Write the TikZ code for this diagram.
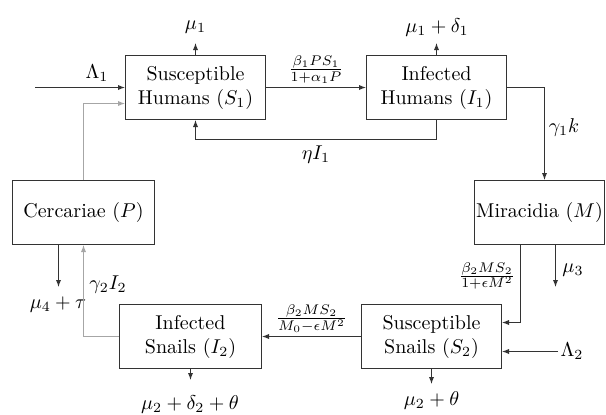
\documentclass[tikz,border=0pt]{standalone}
\usetikzlibrary{arrows.meta,calc}
\begin{document}
\begin{tikzpicture}[x=0.5pt,y=-0.5pt,
  box/.style={draw=black!80,line width=0.5pt,align=center,inner sep=0pt,minimum width=70pt,minimum height=32pt,font=\normalsize},
  flow/.style={draw=black!80,line width=0.5pt,-{Latex[length=3.5pt,width=2.6pt]}},
  faint/.style={flow,draw=black!35},
  lbl/.style={inner sep=1pt}]
\useasboundingbox (0,0) rectangle (606,414);
\node[box] (S1) at (195.5,87.5) {Susceptible\\Humans $(S_1)$};
\node[box] (I1) at (436.5,87.5) {Infected\\Humans $(I_1)$};
\node[box,minimum width=71pt] (P) at (83.5,212.5) {Cercariae $(P)$};
\node[box,minimum width=65pt] (M) at (539.5,212.5) {Miracidia $(M)$};
\node[box] (S2) at (431.5,336.5) {Susceptible\\Snails $(S_2)$};
\node[box,minimum width=71pt] (I2) at (190.5,336.5) {Infected\\Snails $(I_2)$};
% coordinates
\coordinate (L1s) at (35,87.5);
\coordinate (s1in) at (125,103.5);
\coordinate (mu1e) at (195.5,43);
\coordinate (mu1d1e) at (436.5,43);
\coordinate (fb) at (436.5,139.5);
\coordinate (corner1) at (544.5,87.5);
\coordinate (m3s) at (555.5,244);
\coordinate (m3e) at (555.5,287);
\coordinate (ms) at (520.5,244);
\coordinate (s2in) at (502,322.5);
\coordinate (s2in2) at (502,351.5);
\coordinate (mu2e) at (431.5,384);
\coordinate (i2c) at (83.5,336.5);
\coordinate (m4s) at (58.5,245);
\coordinate (m4e) at (58.5,287);
\coordinate (mu2d2e) at (190.5,380);
% labels
\node[lbl] (lL1) at (97,73) {$\Lambda_1$};
\node[lbl] (lmu1) at (195.5,27) {$\mu_1$};
\node[lbl] (lmu1d1) at (437,27) {$\mu_1+\delta_1$};
\node[lbl] (leta) at (316,155) {$\eta I_1$};
\node[lbl] (lg1) at (564,127) {$\gamma_1 k$};
\node[lbl] (lmu3) at (573,270) {$\mu_3$};
\node[lbl] (lf3) at (487,276) {$\frac{\beta_2 M S_2}{1+\epsilon M^2}$};
\node[lbl] (lL2) at (572,351.5) {$\Lambda_2$};
\node[lbl] (lmu2) at (431.5,400) {$\mu_2+\theta$};
\node[lbl] (lg2) at (108,285) {$\gamma_2 I_2$};
\node[lbl] (lmu4) at (58,305) {$\mu_4+\tau$};
\node[lbl] (lmu2d2) at (190,404) {$\mu_2+\delta_2+\theta$};
% connectors
\draw[flow] (L1s) -- (L1s -| S1.west);
\draw[faint] (P.north) |- (s1in);
\draw[flow] (S1.north) -- (mu1e);
\draw[flow] (I1.north) -- (mu1d1e);
\draw[flow] (S1.east) -- node[above,lbl,yshift=1pt] (lf1) {$\frac{\beta_1 P S_1}{1+\alpha_1 P}$} (I1.west);
\draw[flow] (I1.south) -- (fb) -| (S1.south);
\draw[flow] (I1.east) -- (corner1) -- (corner1 |- M.north);
\draw[flow] (m3s) -- (m3e);
\draw[flow] (ms) |- (s2in);
\draw[flow] (lL2.west) -- (s2in2);
\draw[flow] (S2.south) -- (mu2e);
\draw[flow] (S2.west) -- node[above,lbl,yshift=1pt] (lf2) {$\frac{\beta_2 M S_2}{M_0-\epsilon M^2}$} (I2.east);
\draw[faint] (I2.west) -- (i2c) -- (P.south);
\draw[flow] (m4s) -- (m4e);
\draw[flow] (I2.south) -- (mu2d2e);
\end{tikzpicture}
\end{document}
